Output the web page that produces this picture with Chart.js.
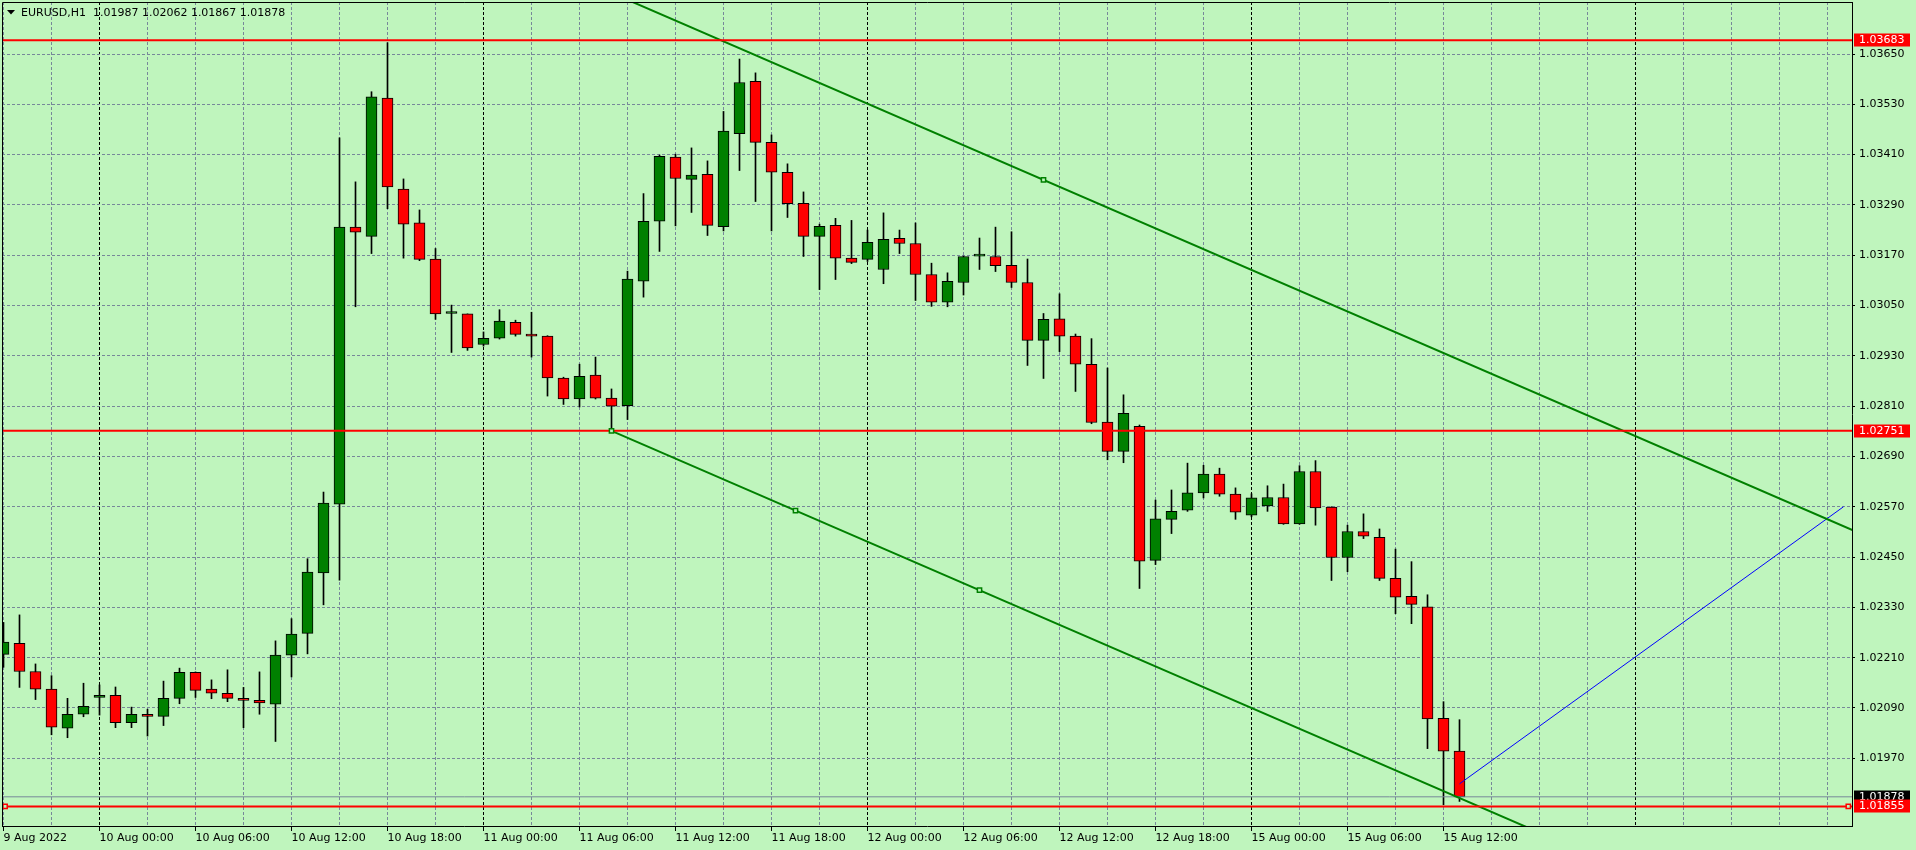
<!DOCTYPE html>
<html lang="en">
<head>
<meta charset="UTF-8">
<title>EURUSD,H1</title>
<script src="https://cdn.jsdelivr.net/npm/chart.js@4.4.1/dist/chart.umd.min.js"></script>
<style>
  html, body { margin: 0; padding: 0; background: #bff5bd; overflow: hidden; }
  #wrap { position: relative; width: 1916px; height: 850px; }
  canvas { display: block; }
  #header {
    position: absolute; left: 21px; top: 6px;
    font: 11px "DejaVu Sans", sans-serif; line-height: 13px;
    color: #000; white-space: pre;
  }
</style>
</head>
<body>
<div id="wrap">
  <canvas id="chart" width="1916" height="850"></canvas>
  <div id="header"></div>
</div>
<script>
// H1 candles, 9 Aug 2022 18:00 .. 15 Aug 2022 13:00
var opens = [
  1.02218, 1.02244, 1.02177, 1.02135, 1.02042, 1.02075, 1.02115, 1.02120, 1.02055, 1.02075,
  1.02070, 1.02113, 1.02175, 1.02135, 1.02125, 1.02113, 1.02108, 1.02099, 1.02216, 1.02268,
  1.02412, 1.02576, 1.03237, 1.03215, 1.03545, 1.03328, 1.03247, 1.03161, 1.03031, 1.03030,
  1.02957, 1.02972, 1.03010, 1.02982, 1.02977, 1.02877, 1.02827, 1.02884, 1.02829, 1.02811,
  1.03108, 1.03251, 1.03404, 1.03351, 1.03363, 1.03238, 1.03460, 1.03585, 1.03439, 1.03368,
  1.03294, 1.03215, 1.03241, 1.03163, 1.03160, 1.03136, 1.03210, 1.03198, 1.03124, 1.03058,
  1.03105, 1.03168, 1.03167, 1.03146, 1.03105, 1.02967, 1.03018, 1.02977, 1.02910, 1.02772,
  1.02702, 1.02762, 1.02442, 1.02540, 1.02562, 1.02603, 1.02648, 1.02600, 1.02550, 1.02572,
  1.02592, 1.02529, 1.02654, 1.02569, 1.02449, 1.02511, 1.02497, 1.02399, 1.02356, 1.02331,
  1.02065, 1.01987
];
var highs = [
  1.02294, 1.02312, 1.02195, 1.02167, 1.02113, 1.02149, 1.02145, 1.02140, 1.02092, 1.02087,
  1.02154, 1.02185, 1.02176, 1.02157, 1.02181, 1.02139, 1.02176, 1.02250, 1.02303, 1.02446,
  1.02605, 1.03450, 1.03345, 1.03560, 1.03677, 1.03352, 1.03278, 1.03186, 1.03051, 1.03030,
  1.02987, 1.03040, 1.03015, 1.03034, 1.02978, 1.02879, 1.02910, 1.02927, 1.02851, 1.03132,
  1.03317, 1.03409, 1.03411, 1.03426, 1.03395, 1.03513, 1.03638, 1.03605, 1.03457, 1.03388,
  1.03321, 1.03244, 1.03258, 1.03253, 1.03230, 1.03271, 1.03230, 1.03247, 1.03151, 1.03128,
  1.03168, 1.03211, 1.03237, 1.03226, 1.03161, 1.03031, 1.03078, 1.02982, 1.02971, 1.02901,
  1.02837, 1.02765, 1.02586, 1.02610, 1.02674, 1.02669, 1.02662, 1.02615, 1.02601, 1.02620,
  1.02624, 1.02668, 1.02680, 1.02570, 1.02526, 1.02553, 1.02517, 1.02469, 1.02439, 1.02360,
  1.02105, 1.02062
];
var lows = [
  1.02187, 1.02139, 1.02110, 1.02026, 1.02019, 1.02069, 1.02073, 1.02043, 1.02043, 1.02023,
  1.02048, 1.02100, 1.02115, 1.02112, 1.02105, 1.02043, 1.02075, 1.02010, 1.02164, 1.02219,
  1.02336, 1.02395, 1.03047, 1.03174, 1.03281, 1.03163, 1.03157, 1.03017, 1.02938, 1.02943,
  1.02953, 1.02970, 1.02977, 1.02927, 1.02834, 1.02814, 1.02808, 1.02827, 1.02751, 1.02778,
  1.03070, 1.03179, 1.03240, 1.03272, 1.03217, 1.03228, 1.03372, 1.03298, 1.03228, 1.03260,
  1.03167, 1.03088, 1.03112, 1.03150, 1.03155, 1.03102, 1.03174, 1.03062, 1.03048, 1.03047,
  1.03075, 1.03136, 1.03131, 1.03093, 1.02907, 1.02876, 1.02940, 1.02845, 1.02768, 1.02682,
  1.02675, 1.02375, 1.02432, 1.02506, 1.02559, 1.02591, 1.02595, 1.02540, 1.02546, 1.02559,
  1.02528, 1.02528, 1.02526, 1.02394, 1.02415, 1.02494, 1.02394, 1.02315, 1.02291, 1.01993,
  1.01859, 1.01867
];
var closes = [
  1.02247, 1.02177, 1.02135, 1.02044, 1.02075, 1.02094, 1.02120, 1.02055, 1.02075, 1.02070,
  1.02113, 1.02175, 1.02132, 1.02125, 1.02113, 1.02108, 1.02102, 1.02216, 1.02266, 1.02414,
  1.02579, 1.03237, 1.03225, 1.03548, 1.03333, 1.03244, 1.03160, 1.03030, 1.03031, 1.02949,
  1.02972, 1.03013, 1.02981, 1.02977, 1.02877, 1.02827, 1.02881, 1.02829, 1.02810, 1.03113,
  1.03251, 1.03406, 1.03353, 1.03361, 1.03241, 1.03466, 1.03582, 1.03439, 1.03368, 1.03293,
  1.03215, 1.03239, 1.03163, 1.03153, 1.03201, 1.03208, 1.03198, 1.03124, 1.03058, 1.03108,
  1.03167, 1.03168, 1.03145, 1.03105, 1.02967, 1.03017, 1.02977, 1.02910, 1.02771, 1.02702,
  1.02793, 1.02440, 1.02541, 1.02559, 1.02603, 1.02648, 1.02600, 1.02557, 1.02591, 1.02592,
  1.02529, 1.02654, 1.02567, 1.02449, 1.02511, 1.02500, 1.02399, 1.02354, 1.02337, 1.02064,
  1.01987, 1.01878
];

// time scale: one label every 6 bars, day separators
var timeLabels = [
  '9 Aug 2022', '10 Aug 00:00', '10 Aug 06:00', '10 Aug 12:00', '10 Aug 18:00',
  '11 Aug 00:00', '11 Aug 06:00', '11 Aug 12:00', '11 Aug 18:00', '12 Aug 00:00',
  '12 Aug 06:00', '12 Aug 12:00', '12 Aug 18:00', '15 Aug 00:00', '15 Aug 06:00',
  '15 Aug 12:00'
];
var labelStep = 6;
var daySeparators = [6, 30, 54, 78, 102];

// price scale
var priceTicks = [
  1.03650, 1.03530, 1.03410, 1.03290, 1.03170, 1.03050, 1.02930, 1.02810,
  1.02690, 1.02570, 1.02450, 1.02330, 1.02210, 1.02090, 1.01970
];

// objects drawn on the chart
var levels = [1.03683, 1.02751, 1.01855];   // red horizontal lines
var bidPrice = 1.01878;
var upperTrend = [[30, 1.03928], [116, 1.02507]];
var lowerTrend = [[38, 1.02751], [116, 1.01462]];
var blueLine = [[91, 1.01909], [115, 1.02570]];
var trendAnchors = [[38, 1.02751], [49.5, 1.02561], [61, 1.02371], [65, 1.03350]];
var levelAnchors = [[0.1, 1.01855], [115.3, 1.01855]];

var symbol = 'EURUSD,H1';

var BG = '#bff5bd';
var GRID = '#778899';
var BULL = '#008000';
var BEAR = '#ff0000';
var FONT = '"DejaVu Sans", sans-serif';

var xMin = -0.09375, xMax = 115.53125;
var yMin = 1.018084, yMax = 1.0377405;

var last = opens.length - 1;
document.getElementById('header').textContent = symbol + '  ' +
  [opens[last], highs[last], lows[last], closes[last]].map(function (v) { return v.toFixed(5); }).join(' ');

function pts(arr) {
  return arr.map(function (p) { return { x: p[0], y: p[1] }; });
}

var datasets = [
  {
    type: 'bar', label: 'wick',
    data: opens.map(function (o, i) { return { x: i, y: [lows[i], highs[i]] }; }),
    backgroundColor: '#000', borderWidth: 0,
    barThickness: 1, grouped: false, order: 10
  },
  {
    type: 'bar', label: 'body',
    data: opens.map(function (o, i) { return { x: i, y: [o, closes[i]] }; }),
    backgroundColor: closes.map(function (c, i) { return c < opens[i] ? BEAR : BULL; }),
    borderColor: '#000', borderWidth: 1, borderSkipped: false,
    minBarLength: 2, barThickness: 11, grouped: false, order: 9
  },
  {
    type: 'line', label: 'bid', data: [{ x: xMin, y: bidPrice }, { x: xMax, y: bidPrice }],
    borderColor: GRID, borderWidth: 1, pointRadius: 0, order: 8
  },
  {
    type: 'line', label: 'upper', data: pts(upperTrend),
    borderColor: BULL, borderWidth: 2, pointRadius: 0, order: 4
  },
  {
    type: 'line', label: 'lower', data: pts(lowerTrend),
    borderColor: BULL, borderWidth: 2, pointRadius: 0, order: 4
  },
  {
    type: 'line', label: 'blue', data: pts(blueLine),
    borderColor: '#0000ff', borderWidth: 1, pointRadius: 0, order: 4
  }
];

levels.forEach(function (v) {
  datasets.push({
    type: 'line', label: 'level ' + v, data: [{ x: xMin, y: v }, { x: xMax, y: v }],
    borderColor: BEAR, borderWidth: 2, pointRadius: 0, order: 3
  });
});

datasets.push({
  type: 'scatter', label: 'anchors', data: pts(trendAnchors),
  pointStyle: 'rect', pointRadius: 3, borderColor: BULL, backgroundColor: BG, borderWidth: 1.5, order: 1
});
datasets.push({
  type: 'scatter', label: 'level anchors', data: pts(levelAnchors),
  pointStyle: 'rect', pointRadius: 3, borderColor: BEAR, backgroundColor: BG, borderWidth: 1.5, order: 1
});

// frame, price tags and the little menu triangle
var chrome = {
  id: 'chrome',
  afterDraw: function (chart) {
    var ctx = chart.ctx, a = chart.chartArea, y = chart.scales.y;
    ctx.save();
    ctx.strokeStyle = '#000';
    ctx.lineWidth = 1;
    ctx.beginPath();
    ctx.moveTo(a.left + 0.5, a.bottom);
    ctx.lineTo(a.left + 0.5, a.top + 0.5);
    ctx.lineTo(a.right, a.top + 0.5);
    ctx.stroke();

    ctx.fillStyle = '#000';
    ctx.beginPath();
    ctx.moveTo(7, 10); ctx.lineTo(15, 10); ctx.lineTo(11, 14.5);
    ctx.closePath(); ctx.fill();

    var tags = [
      { v: levels[0], bg: BEAR }, { v: levels[1], bg: BEAR },
      { v: bidPrice, bg: '#000' }, { v: levels[2], bg: BEAR }
    ];
    ctx.font = '11px ' + FONT;
    ctx.textBaseline = 'middle';
    ctx.textAlign = 'left';
    tags.forEach(function (t) {
      var py = Math.round(y.getPixelForValue(t.v));
      ctx.fillStyle = t.bg;
      ctx.fillRect(a.right + 2, py - 6.5, 56, 13);
      ctx.fillStyle = '#fff';
      ctx.fillText(t.v.toFixed(5), a.right + 7, py + 0.5);
    });
    ctx.restore();
  }
};

new Chart(document.getElementById('chart'), {
  type: 'bar',
  data: { datasets: datasets },
  plugins: [chrome],
  options: {
    responsive: false,
    animation: false,
    devicePixelRatio: 1,
    events: [],
    layout: { autoPadding: false, padding: { left: 2, top: 2, right: 0, bottom: 0 } },
    plugins: { legend: { display: false }, tooltip: { enabled: false } },
    scales: {
      x: {
        type: 'linear', min: xMin, max: xMax, offset: false,
        afterBuildTicks: function (s) {
          var t = [];
          for (var v = 0; v <= 114; v += 3) t.push({ value: v });
          s.ticks = t;
        },
        afterFit: function (s) { s.height = 24; s.paddingLeft = 0; s.paddingRight = 0; },
        ticks: {
          autoSkip: false, maxRotation: 0, minRotation: 0, align: 'start',
          padding: 1, color: '#000', font: { family: FONT, size: 11 },
          callback: function (v) {
            return v % labelStep === 0 && timeLabels[v / labelStep] ? timeLabels[v / labelStep] : '';
          }
        },
        grid: {
          offset: false, lineWidth: 1, tickLength: 5,
          color: function (c) {
            return c.tick && daySeparators.indexOf(c.tick.value) >= 0 ? '#000' : GRID;
          },
          tickColor: function (c) {
            return c.tick && c.tick.value % labelStep === 0 && timeLabels[c.tick.value / labelStep] ? '#000' : 'rgba(0,0,0,0)';
          }
        },
        border: { display: true, color: '#000', width: 1, dash: [3, 2] }
      },
      y: {
        type: 'linear', position: 'right', min: yMin, max: yMax,
        afterBuildTicks: function (s) {
          s.ticks = priceTicks.map(function (v) { return { value: v }; });
        },
        afterFit: function (s) { s.width = 64; s.paddingTop = 0; s.paddingBottom = 0; },
        ticks: {
          padding: 4, crossAlign: 'near', color: '#000', font: { family: FONT, size: 11 },
          callback: function (v) { return v.toFixed(5); }
        },
        grid: { color: GRID, lineWidth: 1, tickLength: 3, tickColor: '#000' },
        border: { display: true, color: '#000', width: 1, dash: [3, 2] }
      }
    }
  }
});
</script>
</body>
</html>
